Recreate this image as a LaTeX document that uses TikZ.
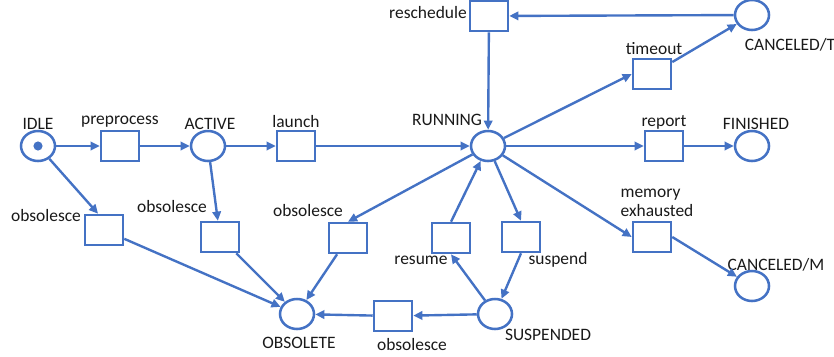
\documentclass[tikz,border=0pt]{standalone}
\usepackage{fontspec}
\setmainfont{Carlito}
\usepackage{tikz}
\usetikzlibrary{arrows.meta,shapes,positioning}
\usepackage{xcolor}
\definecolor{pnblue}{RGB}{68,114,196}
\definecolor{pntext}{RGB}{25,25,25}
\tikzstyle{place} = [ellipse, minimum width=0.85cm, minimum height=0.75cm, inner sep=0pt, draw=pnblue, line width=1.8pt]
\tikzstyle{transition} = [rectangle, minimum width=0.95cm, minimum height=0.75cm, inner sep=0pt, draw=pnblue, line width=1.8pt]
\tikzstyle{tag} = [font=\fontsize{12.4}{13.5}\selectfont, text=pntext, inner sep=0pt]
\tikzstyle{arrow} = [line width=1.7pt,->,>={Stealth[length=6.5pt,width=6pt,inset=0pt]},color=pnblue]

\begin{document}
\begin{tikzpicture}[x=0.025cm, y=-0.025cm]
\useasboundingbox (0,0) rectangle (834,356);
% Places
\node (idle) [place] at (38,146) {};
\node (token) [circle, fill=pnblue, inner sep=0pt, minimum size=6.5pt] at (idle) {};
\node (active) [place] at (208,146) {};
\node (running) [place] at (488,146) {};
\node (canct) [place] at (752,15) {};
\node (finished) [place] at (752,146) {};
\node (cancm) [place] at (752,286) {};
\node (obsolete) [place] at (297,314) {};
\node (suspended) [place] at (495,314) {};

% Transitions
\node (preprocess) [transition] at (120,146) {};
\node (launch) [transition] at (296,146) {};
\node (reschedule) [transition] at (489,16) {};
\node (timeout) [transition] at (652,74) {};
\node (report) [transition] at (664,146) {};
\node (memex) [transition] at (652,237) {};
\node (obsidle) [transition] at (104,230) {};
\node (obsactive) [transition] at (220,237) {};
\node (obsrun) [transition] at (348,238) {};
\node (resume) [transition] at (451,238) {};
\node (suspend) [transition] at (521,237) {};
\node (obssusp) [transition] at (393,316) {};

% Labels
\node (lidle) [tag] at (38,124) {IDLE};
\node (lpreprocess) [tag] at (120,122) {preprocess};
\node (lactive) [tag] at (210,124) {ACTIVE};
\node (llaunch) [tag] at (296,122) {launch};
\node (lrunning) [tag] at (447,120) {RUNNING};
\node (lreschedule) [tag] at (428,13) {reschedule};
\node (lcanct) [tag] at (790,45) {CANCELED/T};
\node (ltimeout) [tag] at (654,49) {timeout};
\node (lreport) [tag] at (664,122) {report};
\node (lfinished) [tag] at (756,124) {FINISHED};
\node (lmemex) [tag, align=left] at (657,203) {memory\\exhausted};
\node (lcancm) [tag] at (776,265) {CANCELED/M};
\node (lobsidle) [tag] at (46,216) {obsolesce};
\node (lobsactive) [tag] at (172,207) {obsolesce};
\node (lobsrun) [tag] at (308,211) {obsolesce};
\node (lresume) [tag] at (421,260) {resume};
\node (lsuspend) [tag] at (558,260) {suspend};
\node (lsuspended) [tag] at (548,335) {SUSPENDED};
\node (lobsolete) [tag] at (299,343) {OBSOLETE};
\node (lobssusp) [tag] at (412,345) {obsolesce};

% Arcs
\draw[arrow] (idle) -- (preprocess);
\draw[arrow] (preprocess) -- (active);
\draw[arrow] (active) -- (launch);
\draw[arrow] (launch) -- (running);
\draw[arrow] (running) -- (timeout.west);
\draw[arrow] (timeout) -- (canct);
\draw[arrow] (canct) -- (reschedule);
\draw[arrow] (reschedule) -- (running);
\draw[arrow] (running) -- (report);
\draw[arrow] (report) -- (finished);
\draw[arrow] (running) -- (memex.west);
\draw[arrow] (memex.east) -- (cancm);
\draw[arrow] (idle) -- (obsidle.110);
\draw[arrow] (obsidle) -- (obsolete);
\draw[arrow] (active) -- (obsactive);
\draw[arrow] (obsactive) -- (obsolete);
\draw[arrow] (running) -- (obsrun.north);
\draw[arrow] (obsrun) -- (obsolete);
\draw[arrow] (running) -- (suspend.north);
\draw[arrow] (suspend.south) -- (suspended);
\draw[arrow] (suspended) -- (resume.south);
\draw[arrow] (resume.north) -- (running);
\draw[arrow] (suspended) -- (obssusp);
\draw[arrow] (obssusp) -- (obsolete);
\end{tikzpicture}
\end{document}
